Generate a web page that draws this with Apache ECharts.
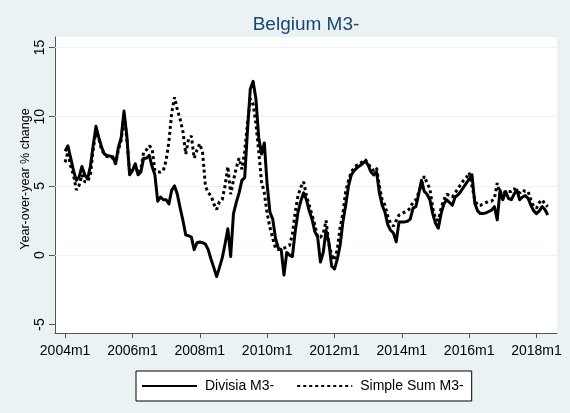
<!DOCTYPE html>
<html>
<head>
<meta charset="utf-8">
<script src="https://cdn.jsdelivr.net/npm/echarts@6/dist/echarts.min.js"></script>
<style>
html,body{margin:0;padding:0;background:#fff;}
#chart{width:570px;height:413px;}
</style>
</head>
<body>
<div id="chart"></div>
<script>
// Monthly data, 2004m1 .. 2018m5 (x = months since 2004m1)
const divisia = [
7.5,7.9,7.0,6.1,5.4,5.65,6.4,5.8,5.5,6.4,7.9,9.3,
8.5,7.8,7.3,7.2,7.15,7.1,6.6,7.8,8.5,10.4,8.6,5.8,
6.1,6.6,5.8,6.0,7.0,7.0,7.2,6.4,5.8,3.9,4.2,4.0,
4.0,3.7,4.7,5.0,4.4,3.4,2.5,1.45,1.4,1.3,0.4,0.9,
0.95,0.9,0.8,0.4,-0.3,-0.9,-1.55,-0.9,-0.2,0.8,1.9,-0.1,
3.0,3.8,4.5,5.4,5.6,9.0,12.0,12.55,11.3,8.5,7.3,8.1,
5.1,3.1,2.6,1.2,0.5,0.4,-1.44,0.2,0.0,-0.1,1.7,3.1,
3.9,4.5,4.0,3.2,2.6,1.7,1.3,-0.5,0.2,1.8,0.9,-0.8,
-1.0,-0.3,0.7,2.4,3.6,5.0,5.8,6.1,6.3,6.45,6.6,6.8,
6.5,6.0,5.8,6.0,4.5,3.6,3.1,2.2,1.8,1.6,0.96,2.4,
2.4,2.4,2.45,2.6,3.4,3.5,4.4,5.4,4.6,4.4,4.0,3.0,
2.3,1.95,3.0,3.7,4.0,3.8,3.6,4.2,4.35,4.6,4.9,5.2,
5.5,5.8,3.75,3.2,3.0,3.0,3.05,3.15,3.25,3.5,2.55,4.7,
4.0,4.6,4.1,4.0,4.4,4.7,4.0,4.2,4.3,4.1,3.6,3.2,
3.0,3.2,3.5,3.3,2.9
];
const simpleSum = [
6.7,7.45,6.4,5.8,4.7,5.05,5.8,5.3,5.3,5.8,7.6,9.0,
8.4,7.6,7.3,7.1,7.1,7.0,6.6,7.6,8.3,10.2,8.4,5.9,
6.2,6.5,5.9,6.2,7.45,7.6,7.9,7.7,6.1,6.0,6.0,6.1,
6.85,8.2,10.3,11.4,10.5,9.8,8.9,7.3,8.4,8.6,7.0,7.6,
8.05,7.4,5.0,4.5,4.3,3.7,3.3,3.85,4.0,5.0,6.4,4.4,
5.4,6.3,7.0,6.2,7.5,9.5,11.3,10.9,9.5,7.5,5.3,4.5,
3.0,2.0,1.2,0.5,0.4,0.45,0.5,0.6,0.7,1.5,3.1,4.3,
4.9,5.3,4.3,3.6,2.9,2.2,1.3,1.3,1.56,2.5,0.8,0.0,
-0.36,0.4,2.0,3.0,4.6,5.4,6.0,6.3,6.5,6.6,6.75,6.9,
6.6,6.3,6.1,6.3,5.0,4.0,3.6,2.8,2.3,2.1,2.5,2.9,
3.0,3.1,3.2,3.4,3.85,4.0,4.5,5.1,5.7,5.2,4.8,3.4,
2.6,2.5,3.4,4.0,4.4,4.3,4.2,4.5,4.8,5.1,5.4,5.6,
5.95,5.0,4.0,3.6,3.6,3.7,3.8,3.87,3.9,4.1,5.2,4.4,
4.6,4.5,4.6,4.6,4.8,4.6,4.5,4.7,4.6,4.6,4.0,3.5,
3.4,3.8,4.0,3.7,3.5
];
const xTickLabels = ['2004m1','2006m1','2008m1','2010m1','2012m1','2014m1','2016m1','2018m1'];
const yTickValues = [-5, 0, 5, 10, 15];
const gridValues = [0, 5, 10, 15];
const seriesNames = ['Divisia M3-', 'Simple Sum M3-'];

function labelToIndex(s) {
  const p = s.split('m');
  return (parseInt(p[0]) - 2004) * 12 + (parseInt(p[1]) - 1);
}
const xTickValues = xTickLabels.map(labelToIndex);
const labelByIndex = {};
xTickLabels.forEach(function (l) { labelByIndex[labelToIndex(l)] = l; });

const chart = echarts.init(document.getElementById('chart'), null, {renderer: 'canvas'});
const font = '"Liberation Sans", Arial, sans-serif';
const axisColor = '#555555';

chart.setOption({
  backgroundColor: '#EAF2F3',
  animation: false,
  title: {
    text: 'Belgium M3-',
    left: 306,
    textAlign: 'center',
    top: 15,
    padding: 0,
    textStyle: {fontFamily: font, fontSize: 19, fontWeight: 'normal', color: '#1a476f'}
  },
  grid: {left: 55, right: 13, top: 37, bottom: 80, show: true, backgroundColor: '#ffffff', borderWidth: 0},
  legend: {
    data: seriesNames,
    left: 136,
    top: 371,
    orient: 'horizontal',
    itemWidth: 55,
    itemHeight: 14,
    itemGap: 22,
    padding: [8, 8, 8, 5],
    borderColor: '#000000',
    borderWidth: 1,
    backgroundColor: '#ffffff',
    itemStyle: {opacity: 0},
    textStyle: {fontFamily: font, fontSize: 14, color: '#000000', padding: [0, 0, 0, 3]}
  },
  xAxis: {
    type: 'value',
    min: -3.6,
    max: 175.3,
    axisLine: {show: true, onZero: false, lineStyle: {color: axisColor, width: 1}},
    axisTick: {show: true, customValues: xTickValues, length: 5, lineStyle: {color: axisColor}},
    axisLabel: {
      customValues: xTickValues,
      margin: 11,
      fontFamily: font, fontSize: 14, color: '#000000',
      formatter: function (v) { return labelByIndex[Math.round(v)] || ''; }
    },
    splitLine: {show: false}
  },
  yAxis: {
    type: 'value',
    min: -5.62,
    max: 15.75,
    name: 'Year-over-year % change',
    nameLocation: 'middle',
    nameGap: 23,
    nameMoveOverlap: false,
    nameRotate: 90,
    nameTextStyle: {fontFamily: font, fontSize: 12.5, color: '#000000', padding: [0, 0, 0, 12]},
    axisLine: {show: true, onZero: false, lineStyle: {color: axisColor, width: 1}},
    axisTick: {show: true, customValues: yTickValues, length: 6, lineStyle: {color: axisColor}},
    axisLabel: {
      customValues: yTickValues,
      rotate: 90,
      margin: 8,
      fontFamily: font, fontSize: 14, color: '#000000'
    },
    splitLine: {show: false}
  },
  series: [
    {
      name: seriesNames[0],
      type: 'line',
      data: divisia.map(function (v, i) { return [i, v]; }),
      showSymbol: false,
      symbol: 'none',
      z: 3,
      lineStyle: {color: '#000000', width: 3, type: 'solid', join: 'round'},
      itemStyle: {color: '#000000'},
      markLine: {
        silent: true,
        z: 1,
        symbol: ['none', 'none'],
        label: {show: false},
        lineStyle: {color: '#EAF2F3', width: 1, type: 'solid'},
        data: gridValues.map(function (v) { return {yAxis: v}; })
      }
    },
    {
      name: seriesNames[1],
      type: 'line',
      data: simpleSum.map(function (v, i) { return [i, v]; }),
      showSymbol: false,
      symbol: 'none',
      z: 2,
      lineStyle: {color: '#000000', width: 3, type: [3, 3], cap: 'butt'},
      itemStyle: {color: '#000000'}
    }
  ]
});
</script>
</body>
</html>
